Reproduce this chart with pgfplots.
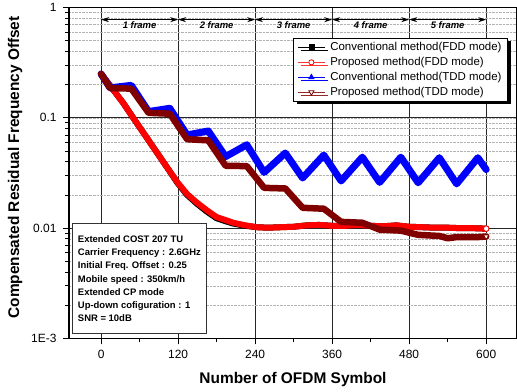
\documentclass[border=0pt]{standalone}
\usepackage{fontspec}
\setmainfont{Liberation Sans}
\usepackage{pgfplots}
\usepackage{pgfplotstable}
\pgfplotsset{compat=1.18}
\usetikzlibrary{arrows.meta,shadows}
\definecolor{maroonband}{RGB}{128,0,0}
\definecolor{maroonleg}{RGB}{150,40,40}

% Conventional method, FDD mode
\pgfplotstableread{
n v
0 0.25
10 0.21
22 0.17
35 0.135
50 0.1
70 0.0676
87 0.0484
104 0.0347
119 0.0257
134 0.0200
149 0.0167
165 0.0141
180 0.0123
193 0.0116
206 0.0110
225 0.0105
243 0.0102
260 0.0101
280 0.0102
300 0.0103
320 0.0106
340 0.0107
360 0.0105
380 0.0105
400 0.0107
420 0.0105
440 0.0104
460 0.0106
480 0.0103
500 0.0102
520 0.0101
540 0.0101
560 0.0100
580 0.0100
600 0.0099
}\fddconv

% Proposed method, FDD mode
\pgfplotstableread{
n v
0 0.25
10 0.21
22 0.17
35 0.135
50 0.1
70 0.0676
87 0.0484
104 0.0347
119 0.026
134 0.0204
149 0.0171
165 0.0145
180 0.0126
193 0.0119
206 0.0112
225 0.0106
243 0.0102
260 0.0101
280 0.0102
300 0.0103
320 0.0106
340 0.0107
360 0.0105
380 0.0105
400 0.0107
420 0.0105
440 0.0104
460 0.0106
480 0.0103
500 0.0102
520 0.0101
540 0.0101
560 0.0100
580 0.0100
600 0.0099
}\fddprop

% Conventional method, TDD mode
\pgfplotstableread{
n v
0 0.25
14 0.187
47 0.197
74 0.114
107 0.122
134 0.070
167 0.076
194 0.0445
227 0.057
254 0.032
287 0.048
314 0.0285
347 0.046
374 0.0268
407 0.044
434 0.026
467 0.044
494 0.0258
527 0.0435
554 0.0252
587 0.0435
600 0.034
}\tddconv

% Proposed method, TDD mode
\pgfplotstableread{
n v
0 0.25
14 0.186
47 0.184
74 0.111
107 0.109
134 0.064
167 0.0625
194 0.0368
227 0.0365
254 0.0232
287 0.0229
314 0.0153
347 0.0150
374 0.0114
407 0.0112
434 0.0097
467 0.0095
494 0.0087
527 0.0085
540 0.0081
554 0.0083
587 0.0083
600 0.0084
}\tddprop

\begin{document}
\begin{tikzpicture}
\begin{axis}[
  name=ax,
  scale only axis, width=448bp, height=331bp,
  xmin=-50, xmax=648,
  ymode=log, ymin=1e-3, ymax=1,
  xtick={0,120,...,600}, minor x tick num=1,
  ytick={0.001,0.01,0.1,1}, yticklabels={1E-3,0.01,0.1,1},
  tick align=outside, xtick pos=bottom, ytick pos=left,
  major tick length=6bp, minor tick length=3.5bp,
  xmajorgrids, ymajorgrids, yminorgrids,
  major grid style={black!85, line width=0.7bp},
  minor grid style={gray!60, densely dotted, line width=0.6bp},
  axis line style={line width=1.1bp},
  every tick/.style={black, line width=0.8bp},
  ticklabel style={font=\fontsize{12}{14}\selectfont},
  xticklabel style={yshift=-2bp},
  yticklabel style={xshift=-3bp},
  /pgf/number format/assume math mode=true,
  xlabel={Number of OFDM Symbol},
  ylabel={Compensated Residual Frequency Offset},
  label style={font=\fontsize{15.5}{18}\selectfont\bfseries},
  xlabel style={at={(axis description cs:0.5,-0.125)}, anchor=center},
  ylabel style={at={(axis description cs:-0.1205,0.517)}, anchor=center},
  legend style={at={(axis description cs:0.5,0.908)}, anchor=north west,
    draw=black, line width=1bp, fill=white,
    font=\fontsize{11.5}{13}\selectfont,
    drop shadow={shadow xshift=3bp, shadow yshift=-3bp, fill=black, opacity=1},
    inner xsep=4bp, inner ysep=2bp, row sep=1.2bp, cells={anchor=west},
    /tikz/every odd column/.append style={column sep=3bp}},
  legend image code/.code={\draw[#1, mark repeat=2, mark phase=2]
    plot coordinates {(0bp,0bp) (13.5bp,0bp) (27bp,0bp)};},
]
% legend samples
\addlegendimage{black, line width=0.8bp, mark=square*, mark size=2.5bp, mark options={solid}}
\addlegendentry{Conventional method(FDD mode)}
\addlegendimage{red!80!white, line width=0.8bp, mark=*, mark size=2.6bp, mark options={draw=red, fill=white}}
\addlegendentry{Proposed method(FDD mode)}
\addlegendimage{blue, line width=0.8bp, mark=triangle*, mark size=3bp, mark options={draw=blue, fill=blue}}
\addlegendentry{Conventional method(TDD mode)}
\addlegendimage{maroonleg, line width=0.8bp, mark=triangle*, mark size=3bp, mark options={rotate=180, draw=maroonband, fill=white}}
\addlegendentry{Proposed method(TDD mode)}

% curves
\addplot[forget plot, black, line width=6bp, line join=round, line cap=round] table[x=n, y=v] {\fddconv};
\addplot[forget plot, red, line width=6bp, line join=round, line cap=round] table[x=n, y=v] {\fddprop};
\addplot[forget plot, blue, line width=7bp, line join=round, line cap=round] table[x=n, y=v] {\tddconv};
\addplot[forget plot, maroonband, line width=6.5bp, line join=round, line cap=round] table[x=n, y=v] {\tddprop};
\addplot[forget plot, only marks, mark=*, mark size=2.8bp, mark options={draw=red, fill=white, line width=0.9bp}] coordinates {(600,0.0099)};
\addplot[forget plot, only marks, mark=triangle*, mark size=3bp, mark options={rotate=180, draw=maroonband, fill=white, line width=0.8bp}] coordinates {(600,0.0084)};

% frame markers
\tikzset{framearrow/.style={{Stealth[length=8bp,width=5bp]}-{Stealth[length=8bp,width=5bp]}, line width=0.9bp, black},
         framelabel/.style={font=\fontsize{9.5}{11}\selectfont\bfseries\itshape}}
\draw[framearrow] (axis cs:0,0.776) -- (axis cs:120,0.776);
\draw[framearrow] (axis cs:120,0.776) -- (axis cs:240,0.776);
\draw[framearrow] (axis cs:240,0.776) -- (axis cs:360,0.776);
\draw[framearrow] (axis cs:360,0.776) -- (axis cs:480,0.776);
\draw[framearrow] (axis cs:480,0.776) -- (axis cs:600,0.776);
\node[framelabel] at (axis cs:60,0.692) {1 frame};
\node[framelabel] at (axis cs:180,0.692) {2 frame};
\node[framelabel] at (axis cs:300,0.692) {3 frame};
\node[framelabel] at (axis cs:420,0.692) {4 frame};
\node[framelabel] at (axis cs:540,0.692) {5 frame};

% simulation parameters
\node[draw=black!80, line width=0.8bp, fill=white, anchor=north west,
      inner xsep=4.5bp, inner ysep=0bp, minimum width=134bp, minimum height=110bp,
      align=left, font=\fontsize{9.5}{13.3}\selectfont\bfseries]
  at (axis description cs:0.0067,0.348)
  {Extended COST 207 TU\\
   Carrier Frequency : 2.6GHz\\
   Initial Freq. Offset : 0.25\\
   Mobile speed : 350km/h\\
   Extended CP mode\\
   Up-down cofiguration : 1\\
   SNR = 10dB};
\end{axis}
\pgfresetboundingbox
\path[use as bounding box] ([xshift=-69bp,yshift=-53.5bp]ax.south west) rectangle ([yshift=7.5bp]ax.north east);
\end{tikzpicture}
\end{document}
